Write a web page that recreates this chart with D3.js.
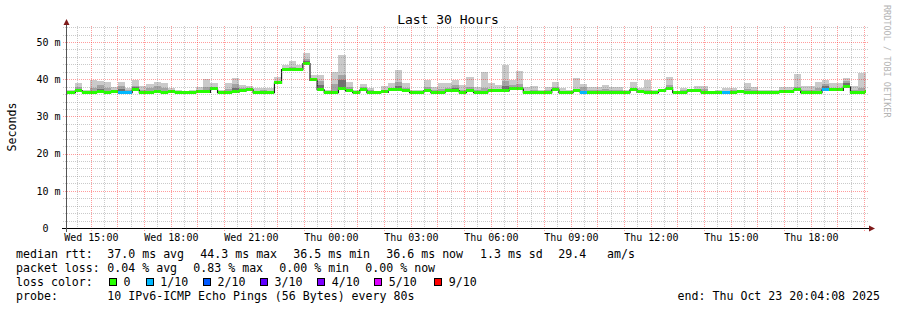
<!DOCTYPE html>
<html>
<head>
<meta charset="utf-8">
<script src="https://cdn.jsdelivr.net/npm/d3@7"></script>
<style>
    body { margin: 0; background: #ffffff; }
    svg text { font-family: "DejaVu Sans Mono", monospace; fill: #000000; }
</style>
</head>
<body>
<div id="chart"></div>
<script>
// ---- data ----
const start_time = new Date(2025, 9, 22, 14, 4, 8)
const end_time = new Date(2025, 9, 23, 20, 4, 8)
const bin_seconds = 960   // 12 x 80s consolidation

// median rtt per bin (ms), first bin is only partly visible
const rtt_median = [
    36.5,
    36.5, 37.0, 36.5, 36.5, 36.6, 36.5, 36.6, 36.5, 36.5, 37.2,
    36.5, 36.5, 36.6, 36.5, 36.6, 36.5, 36.5, 36.5, 36.6, 36.6,
    37.4, 36.5, 36.5, 36.6, 36.9, 37.3, 36.5, 36.5, 36.5, 39.1,
    42.7, 42.7, 42.7, 44.3, 39.8, 37.3, 36.5, 36.5, 37.5, 37.0,
    36.5, 37.2, 36.5, 36.5, 36.6, 37.1, 37.3, 37.0, 36.5, 36.5,
    37.0, 36.5, 36.5, 36.9, 37.0, 36.5, 37.0, 36.5, 36.5, 36.9,
    36.9, 37.0, 37.5, 37.5, 36.5, 36.5, 36.5, 36.5, 37.3, 36.5,
    36.5, 36.9, 36.5, 36.5, 36.5, 36.5, 36.5, 36.5, 36.5, 37.3,
    36.6, 36.5, 36.5, 36.9, 37.5, 36.5, 36.5, 36.9, 36.9, 36.5,
    36.5, 36.5, 36.5, 36.5, 36.6, 36.5, 36.5, 36.5, 36.5, 36.5,
    36.6, 36.6, 37.2, 36.5, 36.5, 36.5, 37.2, 37.1, 37.1, 38.0,
    36.5, 36.5, 36.6
]
// slowest ping per bin (top of the light smoke)
const smoke_top = [
    37.0,
    37.0, 39.1, 37.0, 39.9, 39.6, 39.2, 37.9, 39.2, 37.7, 39.9,
    38.2, 38.8, 39.2, 39.1, 37.7, 37.2, 36.7, 37.0, 38.0, 40.0,
    39.1, 37.2, 39.1, 40.3, 38.4, 38.2, 37.5, 37.7, 37.5, 40.6,
    43.7, 44.9, 43.7, 47.1, 41.0, 41.0, 37.2, 41.9, 46.5, 39.3,
    37.2, 38.6, 37.7, 36.7, 38.3, 38.9, 42.4, 38.9, 37.0, 37.0,
    39.7, 38.0, 38.9, 38.9, 39.7, 38.4, 40.6, 38.0, 41.9, 38.9,
    38.4, 43.8, 39.7, 42.2, 38.0, 38.2, 37.0, 38.0, 39.2, 37.5,
    37.0, 40.2, 38.8, 38.0, 38.0, 38.4, 38.0, 38.0, 37.0, 39.2,
    37.7, 39.7, 37.0, 37.0, 40.6, 36.7, 37.7, 37.0, 38.2, 38.2,
    36.7, 37.0, 37.5, 37.7, 37.0, 39.1, 38.0, 37.0, 37.0, 37.0,
    38.0, 38.0, 41.5, 38.2, 38.2, 39.3, 39.7, 38.9, 39.1, 40.2,
    38.2, 41.7, 41.7
]
// 9th of 10 pings (top of the mid gray smoke)
const smoke_mid = [
    36.7,
    36.7, 37.9, 36.7, 37.6, 38.4, 37.5, 37.0, 38.2, 37.2, 38.3,
    37.1, 37.5, 38.1, 37.6, 37.0, 36.8, 36.6, 36.7, 37.0, 37.9,
    38.0, 36.8, 37.4, 38.8, 37.5, 37.6, 36.9, 37.0, 36.8, 39.6,
    43.0, 43.4, 43.1, 45.5, 40.4, 39.5, 36.8, 38.6, 41.0, 37.9,
    36.8, 38.0, 37.0, 36.6, 37.0, 37.6, 39.2, 37.6, 36.7, 36.7,
    37.8, 37.0, 37.4, 37.5, 38.4, 37.0, 37.8, 37.0, 37.6, 37.4,
    37.2, 39.5, 38.5, 38.6, 36.9, 37.0, 36.7, 37.0, 38.0, 36.8,
    36.7, 37.4, 37.8, 37.0, 37.0, 37.4, 37.0, 37.0, 36.7, 37.6,
    37.0, 37.2, 36.7, 36.9, 38.5, 36.6, 37.0, 37.0, 37.3, 37.4,
    36.6, 36.8, 36.9, 37.0, 36.8, 37.4, 37.2, 36.8, 36.8, 36.7,
    37.2, 37.2, 38.0, 37.2, 37.0, 37.5, 38.8, 37.6, 37.5, 39.6,
    37.2, 37.6, 37.0
]
// 8th of 10 pings (top of the dark smoke)
const smoke_dark = [
    36.5,
    36.5, 37.0, 36.5, 36.5, 37.3, 36.5, 36.6, 37.4, 36.5, 37.8,
    36.5, 36.5, 36.6, 36.5, 36.6, 36.5, 36.5, 36.5, 36.6, 36.6,
    37.4, 36.5, 36.5, 37.6, 36.9, 37.3, 36.5, 36.5, 36.5, 39.4,
    42.7, 42.7, 42.7, 44.8, 39.8, 38.5, 36.5, 36.5, 39.8, 37.0,
    36.5, 37.6, 36.5, 36.5, 36.6, 37.1, 38.2, 37.0, 36.5, 36.5,
    37.0, 36.5, 36.5, 36.9, 37.5, 36.5, 37.0, 36.5, 36.5, 36.9,
    36.9, 38.2, 38.0, 37.9, 36.5, 36.5, 36.5, 36.5, 37.5, 36.5,
    36.5, 36.9, 36.5, 36.5, 36.5, 36.5, 36.5, 36.5, 36.5, 37.3,
    36.6, 36.5, 36.5, 36.9, 38.0, 36.5, 36.5, 36.9, 36.9, 36.5,
    36.5, 36.5, 36.5, 36.5, 36.6, 36.5, 36.5, 36.5, 36.5, 36.5,
    36.6, 36.6, 37.2, 36.5, 36.5, 36.5, 38.2, 37.1, 37.1, 39.0,
    36.5, 36.5, 36.6
]
// lost pings per bin (out of 10)
const loss_count = [
    0,
    0, 0, 0, 0, 0, 0, 0, 1, 1, 0,
    0, 0, 0, 0, 0, 0, 0, 0, 0, 0,
    0, 0, 0, 0, 0, 0, 0, 0, 0, 0,
    0, 0, 0, 0, 0, 0, 0, 0, 0, 0,
    0, 0, 0, 0, 0, 0, 0, 0, 0, 0,
    0, 0, 0, 0, 0, 0, 0, 0, 0, 0,
    0, 0, 0, 0, 0, 0, 0, 0, 0, 0,
    0, 0, 1, 0, 0, 0, 0, 0, 0, 0,
    0, 0, 0, 0, 0, 0, 0, 0, 0, 0,
    0, 0, 1, 0, 0, 0, 0, 0, 0, 0,
    0, 0, 0, 0, 0, 0, 1, 0, 0, 0,
    0, 0, 0
]

const y_ticks = [0, 10, 20, 30, 40, 50]
const loss_labels = ["0", "1/10", "2/10", "3/10", "4/10", "5/10", "9/10"]
const loss_colors = ["#26ff00", "#00b8ff", "#0059ff", "#5e00ff", "#7e00ff", "#dd00ff", "#ff0000"]
const rtt_stats = ["37.0 ms avg", "44.3 ms max", "36.5 ms min", "36.6 ms now", "1.3 ms sd", "29.4", "am/s"]
const loss_stats = ["0.04 % avg", "0.83 % max", "0.00 % min", "0.00 % now"]
const probe_text = "10 IPv6-ICMP Echo Pings (56 Bytes) every 80s"
const end_text = "end: Thu Oct 23 20:04:08 2025"

// ---- layout ----
const W = 897, H = 310
const plot = {left: 66, right: 866, top: 26, bottom: 228}

const svg = d3.select("#chart").append("svg")
    .attr("width", W)
    .attr("height", H)

svg.append("rect").attr("width", W).attr("height", H).attr("fill", "#ffffff")

svg.append("defs").append("clipPath").attr("id", "plot_clip")
    .append("rect")
    .attr("x", plot.left).attr("y", plot.top)
    .attr("width", plot.right - plot.left).attr("height", plot.bottom - plot.top)

const x = d3.scaleTime()
    .domain([start_time, end_time])
    .range([plot.left, plot.right])
const y = d3.scaleLinear()
    .domain([0, 54.3])
    .range([plot.bottom, plot.top])

// first bin starts ~11 minutes before the window
const bin_start = d3.timeSecond.offset(start_time, -660)
const bins = rtt_median.map((m, i) => ({
    t0: d3.timeSecond.offset(bin_start, i * bin_seconds),
    t1: d3.timeSecond.offset(bin_start, (i + 1) * bin_seconds),
    median: m,
    top: smoke_top[i],
    mid: smoke_mid[i],
    dark: smoke_dark[i],
    loss: loss_count[i]
}))

// ---- smoke ----
const graph = svg.append("g").attr("clip-path", "url(#plot_clip)")
const smoke_layers = [
    {key: "top", color: "#cacaca"},
    {key: "mid", color: "#a4a4a4"},
    {key: "dark", color: "#707070"}
]
smoke_layers.forEach(layer => {
    graph.append("g")
        .attr("shape-rendering", "crispEdges")
        .selectAll("rect")
        .data(bins.filter(d => d[layer.key] > d.median))
        .enter()
        .append("rect")
        .attr("x", d => x(d.t0))
        .attr("width", d => x(d.t1) - x(d.t0))
        .attr("y", d => y(d[layer.key]))
        .attr("height", d => y(d.median) - y(d[layer.key]))
        .attr("fill", layer.color)
})

// ---- grid (drawn over the smoke like rrdtool) ----
const grid = svg.append("g").attr("shape-rendering", "crispEdges")
const minor_x = x.ticks(d3.timeMinute.every(30)).filter(d => d.getMinutes() !== 0)
const major_x = x.ticks(d3.timeHour.every(1))
const minor_y = d3.range(2, 55, 2).filter(v => v % 10 !== 0)
const major_y = y_ticks.filter(v => v > 0)
const minor_color = "rgba(128,128,128,0.42)"
const major_color = "rgba(255,20,20,0.42)"

grid.selectAll(".minor_x").data(minor_x).enter().append("line")
    .attr("x1", d => Math.round(x(d)) + 0.5).attr("x2", d => Math.round(x(d)) + 0.5)
    .attr("y1", plot.top).attr("y2", plot.bottom + 2)
    .attr("stroke", minor_color).attr("stroke-dasharray", "1,1")
grid.selectAll(".minor_y").data(minor_y).enter().append("line")
    .attr("x1", plot.left - 3).attr("x2", plot.right + 2)
    .attr("y1", d => Math.round(y(d)) + 0.5).attr("y2", d => Math.round(y(d)) + 0.5)
    .attr("stroke", minor_color).attr("stroke-dasharray", "1,1")
grid.selectAll(".major_x").data(major_x).enter().append("line")
    .attr("x1", d => Math.round(x(d)) + 0.5).attr("x2", d => Math.round(x(d)) + 0.5)
    .attr("y1", plot.top).attr("y2", plot.bottom + 3)
    .attr("stroke", major_color).attr("stroke-dasharray", "1,1")
grid.selectAll(".major_y").data(major_y).enter().append("line")
    .attr("x1", plot.left - 3).attr("x2", plot.right + 2)
    .attr("y1", d => Math.round(y(d)) + 0.5).attr("y2", d => Math.round(y(d)) + 0.5)
    .attr("stroke", major_color).attr("stroke-dasharray", "1,1")

// ---- median line + loss coloured band ----
const line_points = bins.concat([{t0: bins[bins.length - 1].t1, median: bins[bins.length - 1].median}])
graph.append("path")
    .datum(line_points)
    .attr("fill", "none")
    .attr("stroke", "#202020")
    .attr("stroke-width", 1.2)
    .attr("d", d3.line()
        .curve(d3.curveStepAfter)
        .x(d => x(d.t0))
        .y(d => y(d.median) + 0.5)
    )
graph.append("g")
    .attr("shape-rendering", "crispEdges")
    .selectAll("rect")
    .data(bins)
    .enter()
    .append("rect")
    .attr("x", d => x(d.t0))
    .attr("width", d => x(d.t1) - x(d.t0))
    .attr("y", d => y(d.median) - 1.5)
    .attr("height", 3)
    .attr("fill", d => loss_colors[d.loss])

// ---- axes ----
svg.append("line")
    .attr("x1", plot.left - 4).attr("x2", plot.right + 3)
    .attr("y1", plot.bottom + 0.5).attr("y2", plot.bottom + 0.5)
    .attr("stroke", "#000000").attr("shape-rendering", "crispEdges")
svg.append("line")
    .attr("x1", plot.left + 0.5).attr("x2", plot.left + 0.5)
    .attr("y1", plot.bottom + 4).attr("y2", plot.top - 1)
    .attr("stroke", "#555555").attr("shape-rendering", "crispEdges")
svg.append("path")
    .attr("d", "M" + (plot.left - 2.5) + "," + (plot.top - 1) + "L" + (plot.left + 3.5) + "," + (plot.top - 1) + "L" + (plot.left + 0.5) + "," + (plot.top - 7) + "Z")
    .attr("fill", "#7f1a1a")
svg.append("path")
    .attr("d", "M" + (plot.right + 3) + "," + (plot.bottom - 2.5) + "L" + (plot.right + 3) + "," + (plot.bottom + 3.5) + "L" + (plot.right + 9) + "," + (plot.bottom + 0.5) + "Z")
    .attr("fill", "#7f1a1a")

const x_axis = svg.append("g")
    .attr("transform", "translate(0," + plot.bottom + ")")
    .call(d3.axisBottom(x)
        .ticks(d3.timeHour.every(3))
        .tickFormat(d3.timeFormat("%a %H:%M"))
        .tickSize(0)
        .tickPadding(6)
    )
x_axis.select(".domain").remove()
x_axis.selectAll("text").attr("font-size", "10px").attr("font-family", "DejaVu Sans Mono")

const y_axis = svg.append("g")
    .attr("transform", "translate(" + plot.left + ",0)")
    .call(d3.axisLeft(y)
        .tickValues(y_ticks)
        .tickFormat(d => d === 0 ? "0\u00a0\u00a0" : d + " m")
        .tickSize(0)
        .tickPadding(5.5)
    )
y_axis.select(".domain").remove()
y_axis.selectAll("text").attr("font-size", "10px").attr("font-family", "DejaVu Sans Mono")

// ---- titles ----
svg.append("text")
    .attr("x", 448).attr("y", 24)
    .attr("text-anchor", "middle")
    .attr("font-size", "13px")
    .text("Last 30 Hours")
svg.append("text")
    .attr("transform", "translate(16,127) rotate(-90)")
    .attr("text-anchor", "middle")
    .attr("font-size", "11.6px")
    .text("Seconds")
svg.append("text")
    .attr("transform", "translate(884,5) rotate(90)")
    .attr("font-size", "8.5px")
    .style("fill", "#b4b4b4")
    .text("RRDTOOL / TOBI OETIKER")

// ---- legend ----
const legend = svg.append("g").attr("font-size", "11.6px")
const col_x = 107.3
const rtt_x = [107.3, 200.3, 293.3, 386.3, 480, 558.3, 607]
const loss_x = [107.3, 193.3, 279.3, 365.3]
const swatch_x = [109, 145.7, 203, 260, 317.3, 374.3, 434.3]

legend.append("text").attr("x", 16).attr("y", 258).text("median rtt:")
legend.selectAll(".rtt").data(rtt_stats).enter().append("text")
    .attr("x", (d, i) => rtt_x[i]).attr("y", 258).text(d => d)

legend.append("text").attr("x", 16).attr("y", 272).text("packet loss:")
legend.selectAll(".loss").data(loss_stats).enter().append("text")
    .attr("x", (d, i) => loss_x[i]).attr("y", 272).text(d => d)

legend.append("text").attr("x", 16).attr("y", 286).text("loss color:")
legend.selectAll(".swatch").data(loss_colors).enter().append("rect")
    .attr("x", (d, i) => swatch_x[i] + 0.5).attr("y", 278.5)
    .attr("width", 7).attr("height", 7)
    .attr("fill", d => d).attr("stroke", "#000000")
    .attr("shape-rendering", "crispEdges")
legend.selectAll(".swatch_label").data(loss_labels).enter().append("text")
    .attr("x", (d, i) => swatch_x[i] + 14.5).attr("y", 286).text(d => d)

legend.append("text").attr("x", 16).attr("y", 300).text("probe:")
legend.append("text").attr("x", col_x).attr("y", 300).text(probe_text)
legend.append("text").attr("x", 880).attr("y", 300).attr("text-anchor", "end").text(end_text)
</script>
</body>
</html>
